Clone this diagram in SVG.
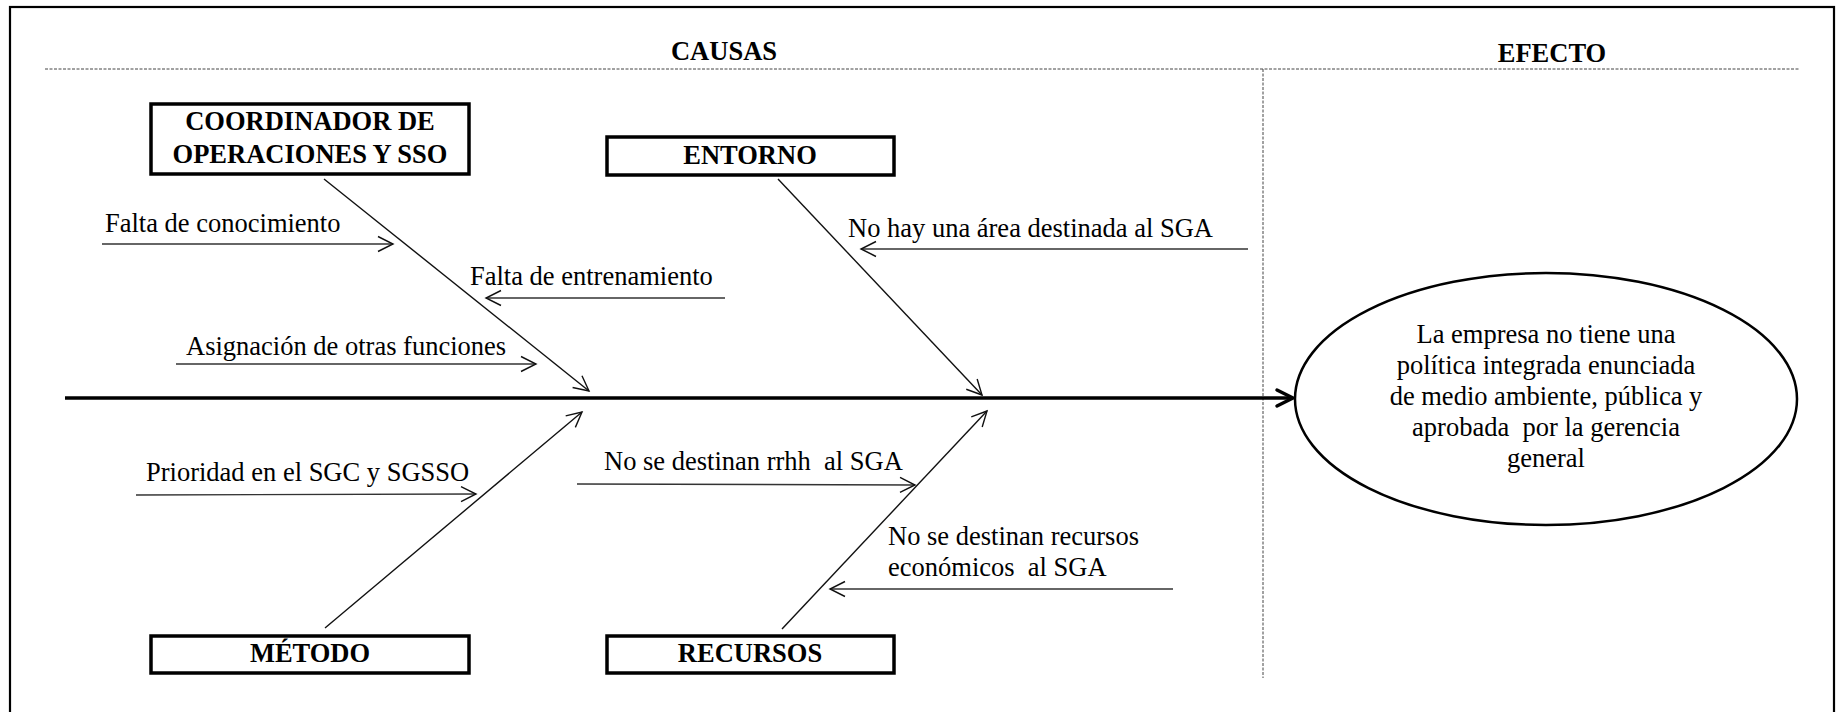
<svg xmlns="http://www.w3.org/2000/svg" width="1843" height="712" viewBox="0 0 1843 712">
<style>
text{font-family:"Liberation Serif","Times New Roman","DejaVu Serif",serif;font-size:26.5px;fill:#000}
.b{font-weight:bold;text-anchor:middle}
.c{text-anchor:middle}
.box{fill:#fff;stroke:#000;stroke-width:3.5}
.br{stroke:#111;stroke-width:1.4;fill:none}
.ca{stroke:#333;stroke-width:1.4;fill:none;marker-end:url(#ah)}
.dash{stroke:#444;stroke-width:1;stroke-dasharray:3 1.5;fill:none}
</style>
<defs>
<marker id="ah" markerUnits="userSpaceOnUse" markerWidth="20" markerHeight="20" refX="15" refY="8" orient="auto" overflow="visible">
<path d="M0,0.5 L15,8 L0,15.5" fill="none" stroke="#111" stroke-width="1.4"/>
</marker>
<marker id="ahb" markerUnits="userSpaceOnUse" markerWidth="24" markerHeight="24" refX="17" refY="9" orient="auto" overflow="visible">
<path d="M1,1 L17,9 L1,17" fill="none" stroke="#000" stroke-width="3.5" stroke-linecap="round" stroke-linejoin="round"/>
</marker>
</defs>
<rect x="10" y="7" width="1824" height="740" fill="none" stroke="#000" stroke-width="2.2"/>
<g id="frame-lines">
<line class="dash" x1="45" y1="69" x2="1800" y2="69"/>
<line class="dash" x1="1263" y1="69" x2="1263" y2="678"/>
<text class="b" x="724" y="60">CAUSAS</text>
<text class="b" x="1552" y="62">EFECTO</text>
</g>
<g id="connectors">
<line x1="65" y1="398" x2="1293" y2="398" stroke="#000" stroke-width="3.5" marker-end="url(#ahb)"/>
<line class="br" x1="324" y1="179" x2="589" y2="391" marker-end="url(#ah)"/>
<line class="br" x1="778" y1="179" x2="982" y2="395" marker-end="url(#ah)"/>
<line class="br" x1="325" y1="628" x2="582" y2="412" marker-end="url(#ah)"/>
<line class="br" x1="782" y1="629" x2="987" y2="411" marker-end="url(#ah)"/>
<line class="ca" x1="102" y1="244" x2="393" y2="244"/>
<line class="ca" x1="725" y1="298" x2="486" y2="298"/>
<line class="ca" x1="176" y1="364" x2="536" y2="364"/>
<line class="ca" x1="1248" y1="249" x2="861" y2="249"/>
<line class="ca" x1="136" y1="495" x2="476" y2="494"/>
<line class="ca" x1="577" y1="484" x2="915" y2="485"/>
<line class="ca" x1="1173" y1="589" x2="830" y2="589"/>
</g>
<g id="coordinador">
<rect class="box" x="151" y="104" width="318" height="70"/>
<text class="b" x="310" y="130">COORDINADOR DE</text>
<text class="b" x="310" y="163">OPERACIONES Y SSO</text>
</g>
<g id="entorno">
<rect class="box" x="607" y="137" width="287" height="38"/>
<text class="b" x="750" y="164">ENTORNO</text>
</g>
<g id="metodo">
<rect class="box" x="151" y="636" width="318" height="37"/>
<text class="b" x="310" y="662">MÉTODO</text>
</g>
<g id="recursos">
<rect class="box" x="607" y="636" width="287" height="37"/>
<text class="b" x="750" y="662">RECURSOS</text>
</g>
<g id="causes">
<text x="105" y="232">Falta de conocimiento</text>
<text x="470" y="285">Falta de entrenamiento</text>
<text x="186" y="355">Asignación de otras funciones</text>
<text x="848" y="237">No hay una área destinada al SGA</text>
<text x="146" y="481">Prioridad en el SGC y SGSSO</text>
<text x="604" y="470" xml:space="preserve">No se destinan rrhh  al SGA</text>
<text x="888" y="545">No se destinan recursos</text>
<text x="888" y="576" xml:space="preserve">económicos  al SGA</text>
</g>
<g id="efecto">
<ellipse cx="1546" cy="399" rx="251" ry="126" fill="#fff" stroke="#000" stroke-width="2.5"/>
<text class="c" x="1546" y="343">La empresa no tiene una</text>
<text class="c" x="1546" y="374">política integrada enunciada</text>
<text class="c" x="1546" y="405">de medio ambiente, pública y</text>
<text class="c" x="1546" y="436" xml:space="preserve">aprobada  por la gerencia</text>
<text class="c" x="1546" y="467">general</text>
</g>
</svg>
